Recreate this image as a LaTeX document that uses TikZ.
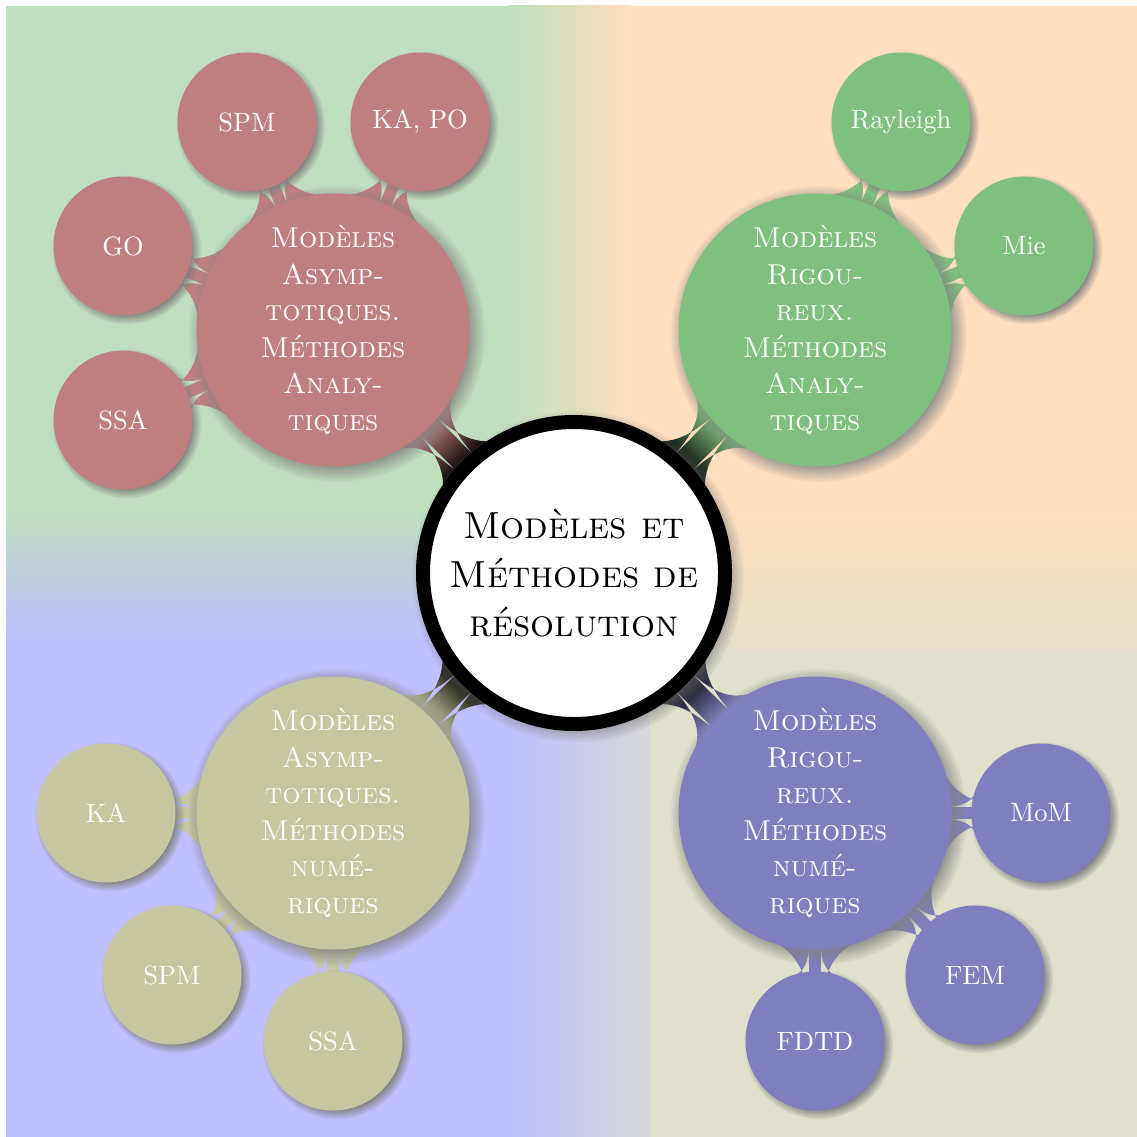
\documentclass[tikz,border=0pt]{standalone}
\usetikzlibrary{mindmap,shadows}
\pgfdeclarelayer{bglayer}
\pgfdeclarelayer{barlayer}
\pgfsetlayers{bglayer,barlayer,main}
\definecolor{cRed}{RGB}{191,127,127}
\definecolor{cGreen}{RGB}{127,191,127}
\definecolor{cBlue}{RGB}{127,127,191}
\definecolor{cKhaki}{RGB}{198,198,160}
\definecolor{bgUL}{RGB}{191,223,191}
\definecolor{bgUR}{RGB}{255,223,191}
\definecolor{bgLL}{RGB}{191,191,255}
\definecolor{bgLR}{RGB}{224,224,204}
\tikzset{
  rootconcept/.style={concept, concept color=black, fill=white, draw=black,
    line width=5.6pt, minimum size=120.8pt, inner sep=0pt, text width={},
    align=center, text=black, font=\fontsize{15.1pt}{19.6pt}\selectfont\scshape,
    circular drop shadow},
  mainconcept/.style={concept, minimum size=108pt, inner sep=0pt, text width={},
    align=center, text=white, font=\fontsize{11.5pt}{14.6pt}\selectfont\scshape,
    circular drop shadow},
  leafconcept/.style={concept, minimum size=54.4pt, inner sep=0pt, text width={},
    align=center, text=white, font=\fontsize{10.6pt}{12.7pt}\selectfont,
    circular drop shadow},
}
\begin{document}
\begin{tikzpicture}[x=0.4pt,y=-0.4pt]
\useasboundingbox (0,0) rectangle (1137,1137);
\begin{pgfonlayer}{bglayer}
  \fill[bgUL] (6,6) rectangle (574,574);
  \fill[bgUR] (574,6) rectangle (1137,574);
  \fill[bgLL] (6,574) rectangle (574,1137);
  \shade[left color=bgUL, right color=bgUR] (508,6) rectangle (631,574);
  \shade[top color=bgUL, bottom color=bgLL] (6,510) rectangle (574,640);
  \shade[top color=bgUR, bottom color=bgLR] (574,510) rectangle (1137,700);
  \shade[left color=bgLL, right color=bgLR] (510,574) rectangle (700,1137);
  \fill[bgLR] (650,650) rectangle (1137,1137);
\end{pgfonlayer}
\begin{scope}[mindmap]
  \node[rootconcept] (R) at (574,573) {Modèles et\\Méthodes de\\résolution};
  % upper left
  \node[mainconcept, concept color=cRed] (M1) at (333,330)
    {Modèles\\Asymp-\\totiques.\\Méthodes\\Analy-\\tiques};
  \node[leafconcept, concept color=cRed] (L11) at (247,122) {SPM};
  \node[leafconcept, concept color=cRed] (L12) at (420,122) {KA, PO};
  \node[leafconcept, concept color=cRed] (L13) at (123,246) {GO};
  \node[leafconcept, concept color=cRed] (L14) at (123,420) {SSA};
  % upper right
  \node[mainconcept, concept color=cGreen] (M2) at (815,330)
    {Modèles\\Rigou-\\reux.\\Méthodes\\Analy-\\tiques};
  \node[leafconcept, concept color=cGreen] (L21) at (901,122) {Rayleigh};
  \node[leafconcept, concept color=cGreen] (L22) at (1024,246) {Mie};
  % lower left
  \node[mainconcept, concept color=cKhaki] (M3) at (333,813)
    {Modèles\\Asymp-\\totiques.\\Méthodes\\numé-\\riques};
  \node[leafconcept, concept color=cKhaki] (L31) at (106,813) {KA};
  \node[leafconcept, concept color=cKhaki] (L32) at (172,975) {SPM};
  \node[leafconcept, concept color=cKhaki] (L33) at (333,1041) {SSA};
  % lower right
  \node[mainconcept, concept color=cBlue] (M4) at (815,813)
    {Modèles\\Rigou-\\reux.\\Méthodes\\numé-\\riques};
  \node[leafconcept, concept color=cBlue] (L41) at (1041,813) {MoM};
  \node[leafconcept, concept color=cBlue] (L42) at (975,975) {FEM};
  \node[leafconcept, concept color=cBlue] (L43) at (815,1041) {FDTD};
  \begin{pgfonlayer}{barlayer}
    \path (R) to[circle connection bar switch color=from (black) to (cRed)] (M1);
    \path (R) to[circle connection bar switch color=from (black) to (cGreen)] (M2);
    \path (R) to[circle connection bar switch color=from (black) to (cKhaki)] (M3);
    \path (R) to[circle connection bar switch color=from (black) to (cBlue)] (M4);
    \foreach \l in {L11,L12,L13,L14}
      \path (M1) to[circle connection bar switch color=from (cRed) to (cRed)] (\l);
    \foreach \l in {L21,L22}
      \path (M2) to[circle connection bar switch color=from (cGreen) to (cGreen)] (\l);
    \foreach \l in {L31,L32,L33}
      \path (M3) to[circle connection bar switch color=from (cKhaki) to (cKhaki)] (\l);
    \foreach \l in {L41,L42,L43}
      \path (M4) to[circle connection bar switch color=from (cBlue) to (cBlue)] (\l);
  \end{pgfonlayer}
\end{scope}
\end{tikzpicture}
\end{document}
